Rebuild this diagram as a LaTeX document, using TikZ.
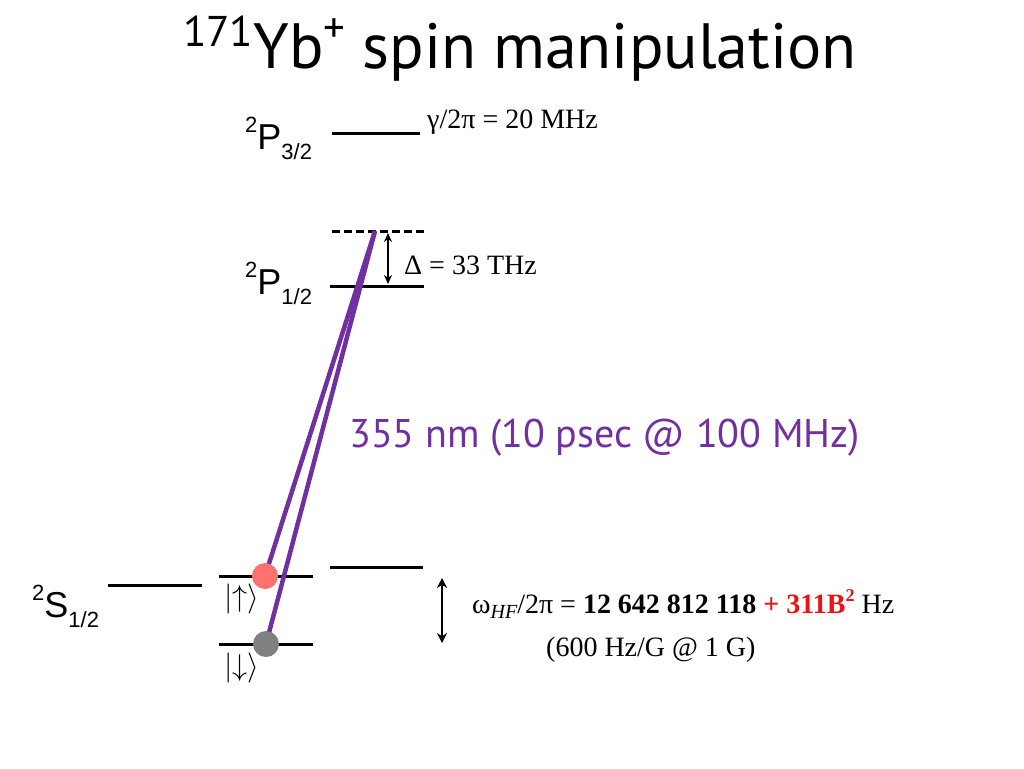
\documentclass[tikz,border=0pt]{standalone}
\usepackage{fontspec}
\setmainfont{Liberation Serif}
\newfontfamily\helvfont{Liberation Sans}
\newfontfamily\slidefont{PT Sans}
\usetikzlibrary{arrows.meta}
\definecolor{beampurple}{RGB}{112,48,160}
\definecolor{uppink}{RGB}{255,112,112}
\definecolor{dngray}{RGB}{128,128,128}
\definecolor{plusred}{RGB}{230,20,20}
\newcommand{\sublbl}[3]{\raisebox{0.45em}{\fontsize{22}{24}\selectfont #1}#2\raisebox{-0.3em}{\fontsize{22}{24}\selectfont #3}}
\newcommand{\spinket}[1]{\scalebox{1.45}{\fontsize{20}{24}\selectfont$|{#1}\rangle$}}
\begin{document}
\begin{tikzpicture}[x=1pt,y=-1pt,
  level/.style={line width=3pt},
  beam/.style={beampurple,line width=4.5pt},
  lbl/.style={font=\helvfont\fontsize{36}{40}\selectfont,inner sep=0pt,anchor=base west},
  note/.style={font=\fontsize{28}{32}\selectfont,inner sep=0pt,anchor=base west},
  ket/.style={inner sep=0pt,anchor=north west},
  dot/.style={circle,inner sep=0pt,minimum size=26pt},
  gap/.style={{Stealth[length=10pt,width=10pt]}-{Stealth[length=10pt,width=10pt]},line width=2.5pt}]
\useasboundingbox (0,0) rectangle (1024,768);

% title
\node[font=\slidefont\fontsize{64}{72}\selectfont,inner sep=0pt,anchor=base] (title) at (520,68)
  {\raisebox{0.34em}{\fontsize{43}{46}\selectfont 171}Yb\raisebox{0.4em}{\fontsize{43}{46}\selectfont +} spin manipulation};

% levels
\draw[level] (332,133) -- (420,133);
\draw[level,dash pattern=on 8pt off 4pt] (332,231) -- (425,231);
\draw[level] (330,286) -- (424,286);
\draw[level] (108,585) -- (202,585);
\draw[level] (219,576) -- (313,576);
\draw[level] (219,644) -- (313,644);
\draw[level] (330,567) -- (423,567);

% level labels
\node[lbl] (p32) at (245,149) {\sublbl{2}{P}{3/2}};
\node[lbl] (p12) at (245,294) {\sublbl{2}{P}{1/2}};
\node[lbl] (s12) at (32,617) {\sublbl{2}{S}{1/2}};
\node[ket] (upket) at (224,584) {\spinket{\uparrow}};
\node[ket] (dnket) at (224,653) {\spinket{\downarrow}};

% raman beams
\coordinate (virt) at (375,231);
\coordinate (upc) at (265,576);
\coordinate (dnc) at (266,644);
\draw[beam] (upc) -- (virt);
\draw[beam] (dnc) -- (virt);
\node[dot,fill=uppink] (up) at (upc) {};
\node[dot,fill=dngray] (dn) at (dnc) {};

% splittings
\coordinate (dtop) at (388,233);
\coordinate (dbot) at (388,284);
\draw[gap,line width=1.5pt,{Stealth[length=9pt,width=8pt]}-{Stealth[length=9pt,width=8pt]}] (dtop) -- (dbot);
\coordinate (hftop) at (442,578);
\coordinate (hfbot) at (442,643);
\draw[gap] (hftop) -- (hfbot);

% texts
\node[note] (gamma) at (427,128) {γ/2π = 20 MHz};
\node[note] (delta) at (404,274) {Δ = 33 THz};
\node[font=\slidefont\fontsize{40}{44}\selectfont,text=beampurple,inner sep=0pt,anchor=base west] (laser) at (349,447)
  {355 nm (10 psec @ 100 MHz)};
\node[note] (hf) at (472,613)
  {ω\raisebox{-0.2em}{\fontsize{20}{22}\selectfont\itshape HF}/2π = \textbf{12 642 812 118} \textcolor{plusred}{\textbf{+ 311B\raisebox{0.4em}{\fontsize{18}{20}\selectfont 2}}} Hz};
\node[note] (zee) at (546,656) {(600 Hz/G @ 1 G)};
\end{tikzpicture}
\end{document}
